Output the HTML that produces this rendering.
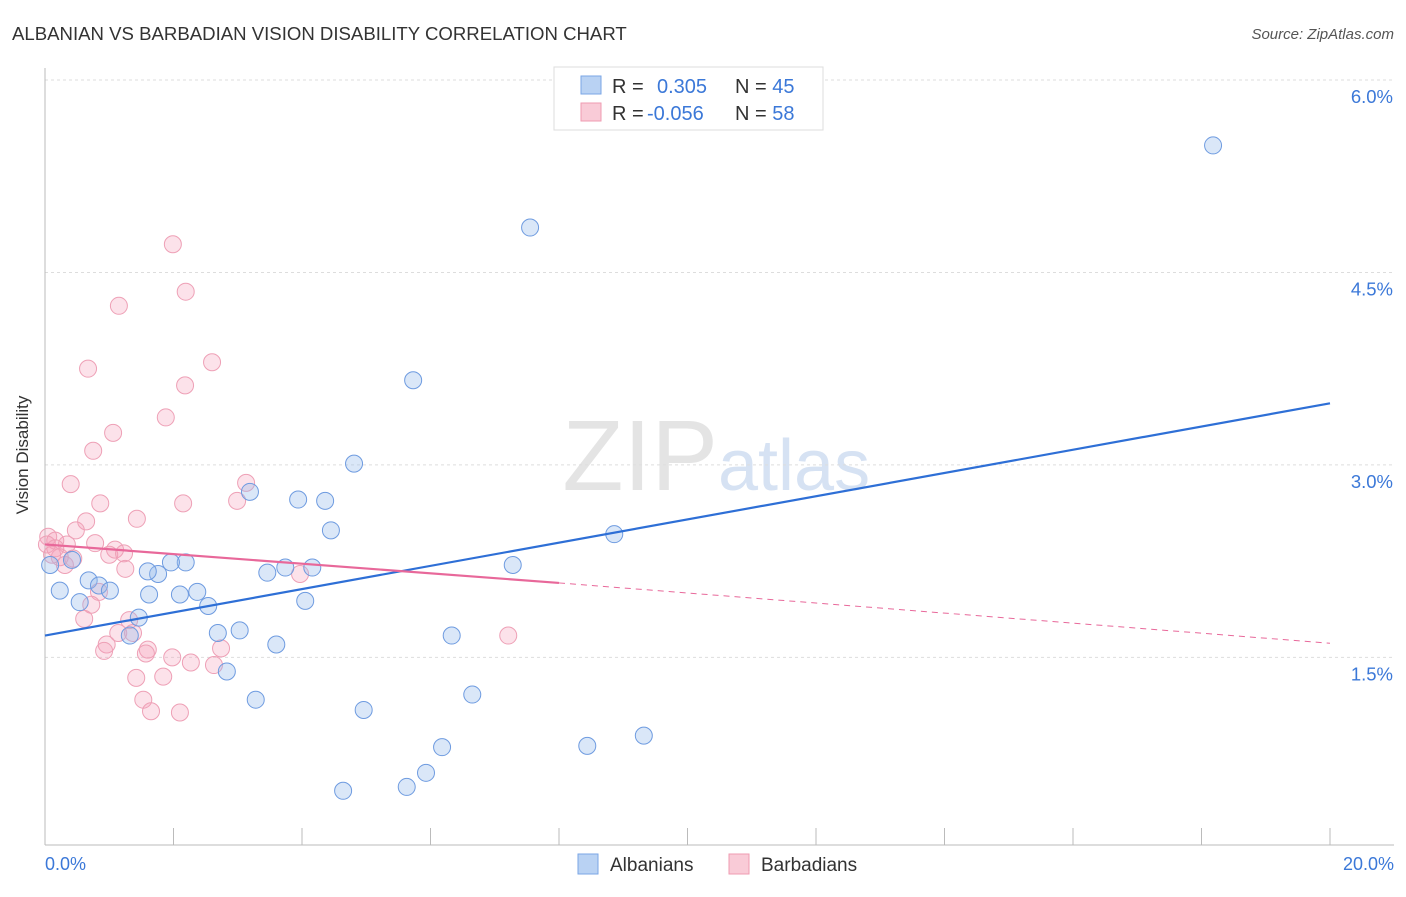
<!DOCTYPE html>
<html><head><meta charset="utf-8"><style>
body{margin:0;background:#fff;font-family:"Liberation Sans",sans-serif}
svg text{font-family:"Liberation Sans",sans-serif}
</style></head><body>
<svg id="chart" width="1406" height="892" viewBox="0 0 1406 892">
<text x="12" y="40" font-size="18.6" fill="#333">ALBANIAN VS BARBADIAN VISION DISABILITY CORRELATION CHART</text>
<text x="1394" y="39" font-size="15" fill="#555" text-anchor="end" font-style="italic">Source: ZipAtlas.com</text>
<text x="718" y="490" font-size="100" fill="#e4e4e4" text-anchor="end" font-family="Liberation Serif">ZIP</text>
<text x="718" y="490" font-size="72" fill="#d6e2f3">atlas</text>
<g id="grid"></g>
<line x1="45" y1="68" x2="45" y2="845" stroke="#bbb"/>
<line x1="45" y1="845" x2="1394" y2="845" stroke="#bbb"/>
<g id="xticks"></g>
<text x="28" y="455" font-size="17" fill="#333" transform="rotate(-90 28 455)" text-anchor="middle">Vision Disability</text>
<text x="45" y="870" font-size="18" fill="#3b78d8">0.0%</text>
<text x="1394" y="870" font-size="18" fill="#3b78d8" text-anchor="end">20.0%</text>
<g id="pts"></g>
<g id="lines"></g>
<g>
<rect x="554" y="67" width="269" height="63" fill="#fff" stroke="#ddd"/>
<rect x="581" y="76" width="20" height="18" fill="#b9d2f3" stroke="#7aa6e6"/>
<rect x="581" y="103" width="20" height="18" fill="#f9cbd7" stroke="#ef9bb2"/>
<text x="612" y="93" font-size="20" fill="#333">R = <tspan fill="#3b78d8" x="657">0.305</tspan><tspan x="735" fill="#333">N = </tspan><tspan fill="#3b78d8">45</tspan></text>
<text x="612" y="120" font-size="20" fill="#333">R = <tspan fill="#3b78d8" x="647">-0.056</tspan><tspan x="735" fill="#333">N = </tspan><tspan fill="#3b78d8">58</tspan></text>
</g>
<g>
<rect x="578" y="854" width="20" height="20" fill="#b9d2f3" stroke="#7aa6e6"/>
<text x="610" y="871" font-size="19" fill="#333">Albanians</text>
<rect x="729" y="854" width="20" height="20" fill="#f9cbd7" stroke="#ef9bb2"/>
<text x="761" y="871" font-size="19" fill="#333">Barbadians</text>
</g>
</svg>
<script>
const yTicks=[1.5,3.0,4.5,6.0];
const xTickVals=[2,4,6,8,10,12,14,16,18,20];
const albX=[18.18,7.55,5.73,4.81,3.19,3.94,4.36,4.45,8.86,7.28,4.16,3.74,3.46,2.19,1.96,1.76,1.60,0.68,0.84,1.01,0.23,0.54,1.62,2.10,2.37,2.54,4.05,1.46,1.32,2.69,3.03,3.60,2.83,6.33,3.28,4.96,6.65,6.18,8.44,9.32,5.93,5.63,4.64,0.08,0.42];
const albY=[5.49,4.85,3.66,3.01,2.79,2.73,2.72,2.49,2.46,2.22,2.20,2.20,2.16,2.24,2.24,2.15,2.17,2.10,2.06,2.02,2.02,1.93,1.99,1.99,2.01,1.90,1.94,1.81,1.67,1.69,1.71,1.60,1.39,1.67,1.17,1.09,1.21,0.80,0.81,0.89,0.60,0.49,0.46,2.22,2.26];
const barX=[1.99,2.19,1.15,2.60,0.67,2.18,1.88,1.06,0.75,0.40,3.13,0.86,2.15,2.99,1.43,0.64,0.48,0.05,0.16,0.34,0.78,1.09,1.00,1.23,0.44,0.23,0.11,0.31,1.25,3.97,0.84,0.72,0.61,1.31,1.14,1.37,0.96,0.92,1.60,1.57,2.74,1.98,2.27,2.63,1.42,1.84,1.53,1.65,2.10,7.21,0.03,0.16];
const barY=[4.72,4.35,4.24,3.80,3.75,3.62,3.37,3.25,3.11,2.85,2.86,2.70,2.70,2.72,2.58,2.56,2.49,2.44,2.41,2.38,2.39,2.34,2.30,2.31,2.27,2.28,2.30,2.22,2.19,2.15,2.01,1.91,1.80,1.79,1.69,1.69,1.60,1.55,1.56,1.53,1.57,1.50,1.46,1.44,1.34,1.35,1.17,1.08,1.07,1.67,2.38,2.35];
const albTrend=[1.67,3.48];
const barTrend=[2.38,2.08,1.61];
const barSolidEnd=8.0;
const X=v=>45+v/20*1285, Y=v=>80+(6-v)*128.3;
const NS='http://www.w3.org/2000/svg';
function mk(t,a,p){const e=document.createElementNS(NS,t);for(const k in a)e.setAttribute(k,a[k]);p.appendChild(e);return e;}
const grid=document.getElementById('grid');
yTicks.forEach(t=>{
 const l=mk('line',{x1:45,x2:1394,y1:Y(t),y2:Y(t),stroke:'#ddd','stroke-dasharray':'3 3'},grid);
 
 
 const tx=mk('text',{x:1393,y:Y(t)+23,'font-size':18.5,fill:'#3b78d8','text-anchor':'end'},grid);
 tx.textContent=t.toFixed(1)+'%';
 
 
});
const xt=document.getElementById('xticks');
xTickVals.forEach(t=>{
 const l=mk('line',{x1:X(t),x2:X(t),y1:828,y2:845,stroke:'#bbb'},xt);
 
 
});
const pts=document.getElementById('pts');
barX.forEach((x,i)=>{
 const c=mk('circle',{cx:X(x),cy:Y(barY[i]),r:8.5,fill:'rgba(245,160,185,0.3)',stroke:'#eea0b6','stroke-width':1},pts);
 
 
});
albX.forEach((x,i)=>{
 const c=mk('circle',{cx:X(x),cy:Y(albY[i]),r:8.5,fill:'rgba(150,185,235,0.35)',stroke:'#6e9be0','stroke-width':1},pts);
 
 
});
const ln=document.getElementById('lines');
const a=mk('line',{x1:X(0),y1:Y(albTrend[0]),x2:X(20),y2:Y(albTrend[1]),stroke:'#2e6fd6','stroke-width':2.2},ln);


const b=mk('line',{x1:X(0),y1:Y(barTrend[0]),x2:X(barSolidEnd),y2:Y(barTrend[1]),stroke:'#e8689a','stroke-width':2.2},ln);


const d=mk('line',{x1:X(barSolidEnd),y1:Y(barTrend[1]),x2:X(20),y2:Y(barTrend[2]),stroke:'#e8689a','stroke-width':1,'stroke-dasharray':'6 5'},ln);


</script>
</body></html>
